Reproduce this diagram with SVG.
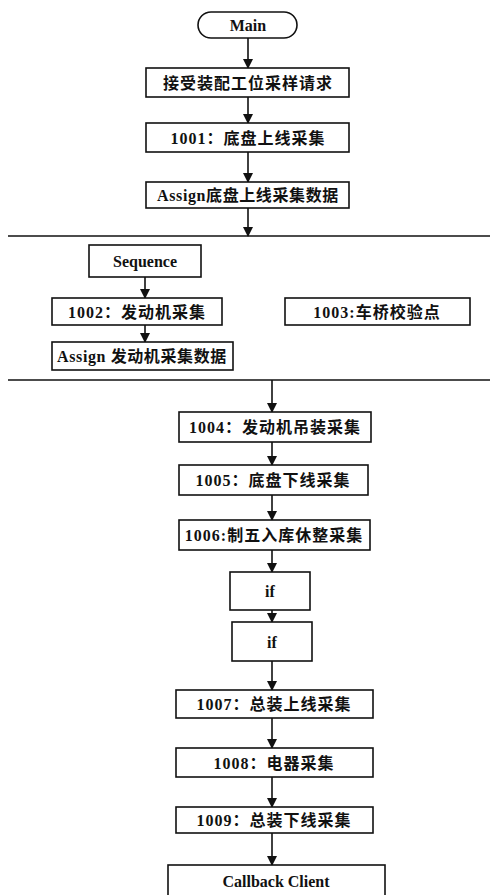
<svg xmlns="http://www.w3.org/2000/svg" width="495" height="895" viewBox="0 0 495 895">
<defs>
<style>
.b{fill:#fff;stroke:#111;stroke-width:1.6}
.t{font-family:"Liberation Serif","Noto Sans CJK SC",serif;font-size:16px;font-weight:bold;fill:#111;text-anchor:middle;dominant-baseline:central;letter-spacing:1px}
.c{stroke:#111;stroke-width:1.6;fill:none}
</style>
<marker id="a" markerWidth="10" markerHeight="10" refX="9" refY="5" orient="auto" markerUnits="userSpaceOnUse"><path d="M0,0 L10,5 L0,10 Z" fill="#111"/></marker>
</defs>
<rect width="495" height="895" fill="#fff"/>
<g id="connectors">
<line class="c" x1="248" y1="38" x2="248" y2="68" marker-end="url(#a)"/>
<line class="c" x1="248" y1="97" x2="248" y2="123" marker-end="url(#a)"/>
<line class="c" x1="248" y1="152" x2="248" y2="182" marker-end="url(#a)"/>
<line class="c" x1="248" y1="208" x2="248" y2="236" marker-end="url(#a)"/>
<line class="c" x1="8" y1="236" x2="490" y2="236"/>
<line class="c" x1="145" y1="277" x2="145" y2="298" marker-end="url(#a)"/>
<line class="c" x1="145" y1="325" x2="145" y2="342" marker-end="url(#a)"/>
<line class="c" x1="8" y1="380" x2="490" y2="380"/>
<line class="c" x1="272" y1="380" x2="272" y2="412" marker-end="url(#a)"/>
<line class="c" x1="272" y1="442" x2="272" y2="465" marker-end="url(#a)"/>
<line class="c" x1="272" y1="495" x2="272" y2="520" marker-end="url(#a)"/>
<line class="c" x1="272" y1="550" x2="272" y2="572" marker-end="url(#a)"/>
<line class="c" x1="272" y1="610" x2="272" y2="622" marker-end="url(#a)"/>
<line class="c" x1="272" y1="661" x2="272" y2="690" marker-end="url(#a)"/>
<line class="c" x1="272" y1="718" x2="272" y2="748" marker-end="url(#a)"/>
<line class="c" x1="272" y1="777" x2="272" y2="807" marker-end="url(#a)"/>
<line class="c" x1="272" y1="833" x2="272" y2="865" marker-end="url(#a)"/>
</g>
<g id="main"><rect class="b" x="198" y="12" width="99" height="26" rx="13"/><text class="t" x="248" y="25" style="letter-spacing:0">Main</text></g>
<g id="n0"><rect class="b" x="146" y="68" width="203" height="29"/><text class="t" x="248" y="83">接受装配工位采样请求</text></g>
<g id="n1001"><rect class="b" x="146" y="123" width="203" height="29"/><text class="t" x="248" y="138">1001：底盘上线采集</text></g>
<g id="nassign1"><rect class="b" x="146" y="182" width="203" height="26"/><text class="t" x="248" y="195" style="letter-spacing:0.6px">Assign底盘上线采集数据</text></g>
<g id="seq"><rect class="b" x="89" y="245" width="112" height="32"/><text class="t" x="145" y="261" style="letter-spacing:0">Sequence</text></g>
<g id="n1002"><rect class="b" x="52" y="298" width="170" height="27"/><text class="t" x="137" y="312">1002：发动机采集</text></g>
<g id="n1003"><rect class="b" x="285" y="298" width="185" height="27"/><text class="t" x="377" y="312">1003:车桥校验点</text></g>
<g id="nassign2"><rect class="b" x="52" y="342" width="181" height="28"/><text class="t" x="142" y="356" style="letter-spacing:0.6px">Assign 发动机采集数据</text></g>
<g id="n1004"><rect class="b" x="179" y="412" width="192" height="30"/><text class="t" x="275" y="427">1004：发动机吊装采集</text></g>
<g id="n1005"><rect class="b" x="179" y="465" width="189" height="30"/><text class="t" x="273" y="480">1005：底盘下线采集</text></g>
<g id="n1006"><rect class="b" x="179" y="520" width="191" height="30"/><text class="t" x="274" y="535">1006:制五入库休整采集</text></g>
<g id="if1"><rect class="b" x="230" y="572" width="80" height="38"/><text class="t" x="270" y="591" style="letter-spacing:0">if</text></g>
<g id="if2"><rect class="b" x="232" y="622" width="80" height="39"/><text class="t" x="272" y="642" style="letter-spacing:0">if</text></g>
<g id="n1007"><rect class="b" x="176" y="690" width="197" height="28"/><text class="t" x="274" y="704">1007：总装上线采集</text></g>
<g id="n1008"><rect class="b" x="176" y="748" width="197" height="29"/><text class="t" x="274" y="763">1008：电器采集</text></g>
<g id="n1009"><rect class="b" x="176" y="807" width="197" height="26"/><text class="t" x="274" y="820">1009：总装下线采集</text></g>
<g id="callback"><rect class="b" x="168" y="865" width="217" height="32"/><text class="t" x="276" y="881" style="letter-spacing:0">Callback Client</text></g>
</svg>
